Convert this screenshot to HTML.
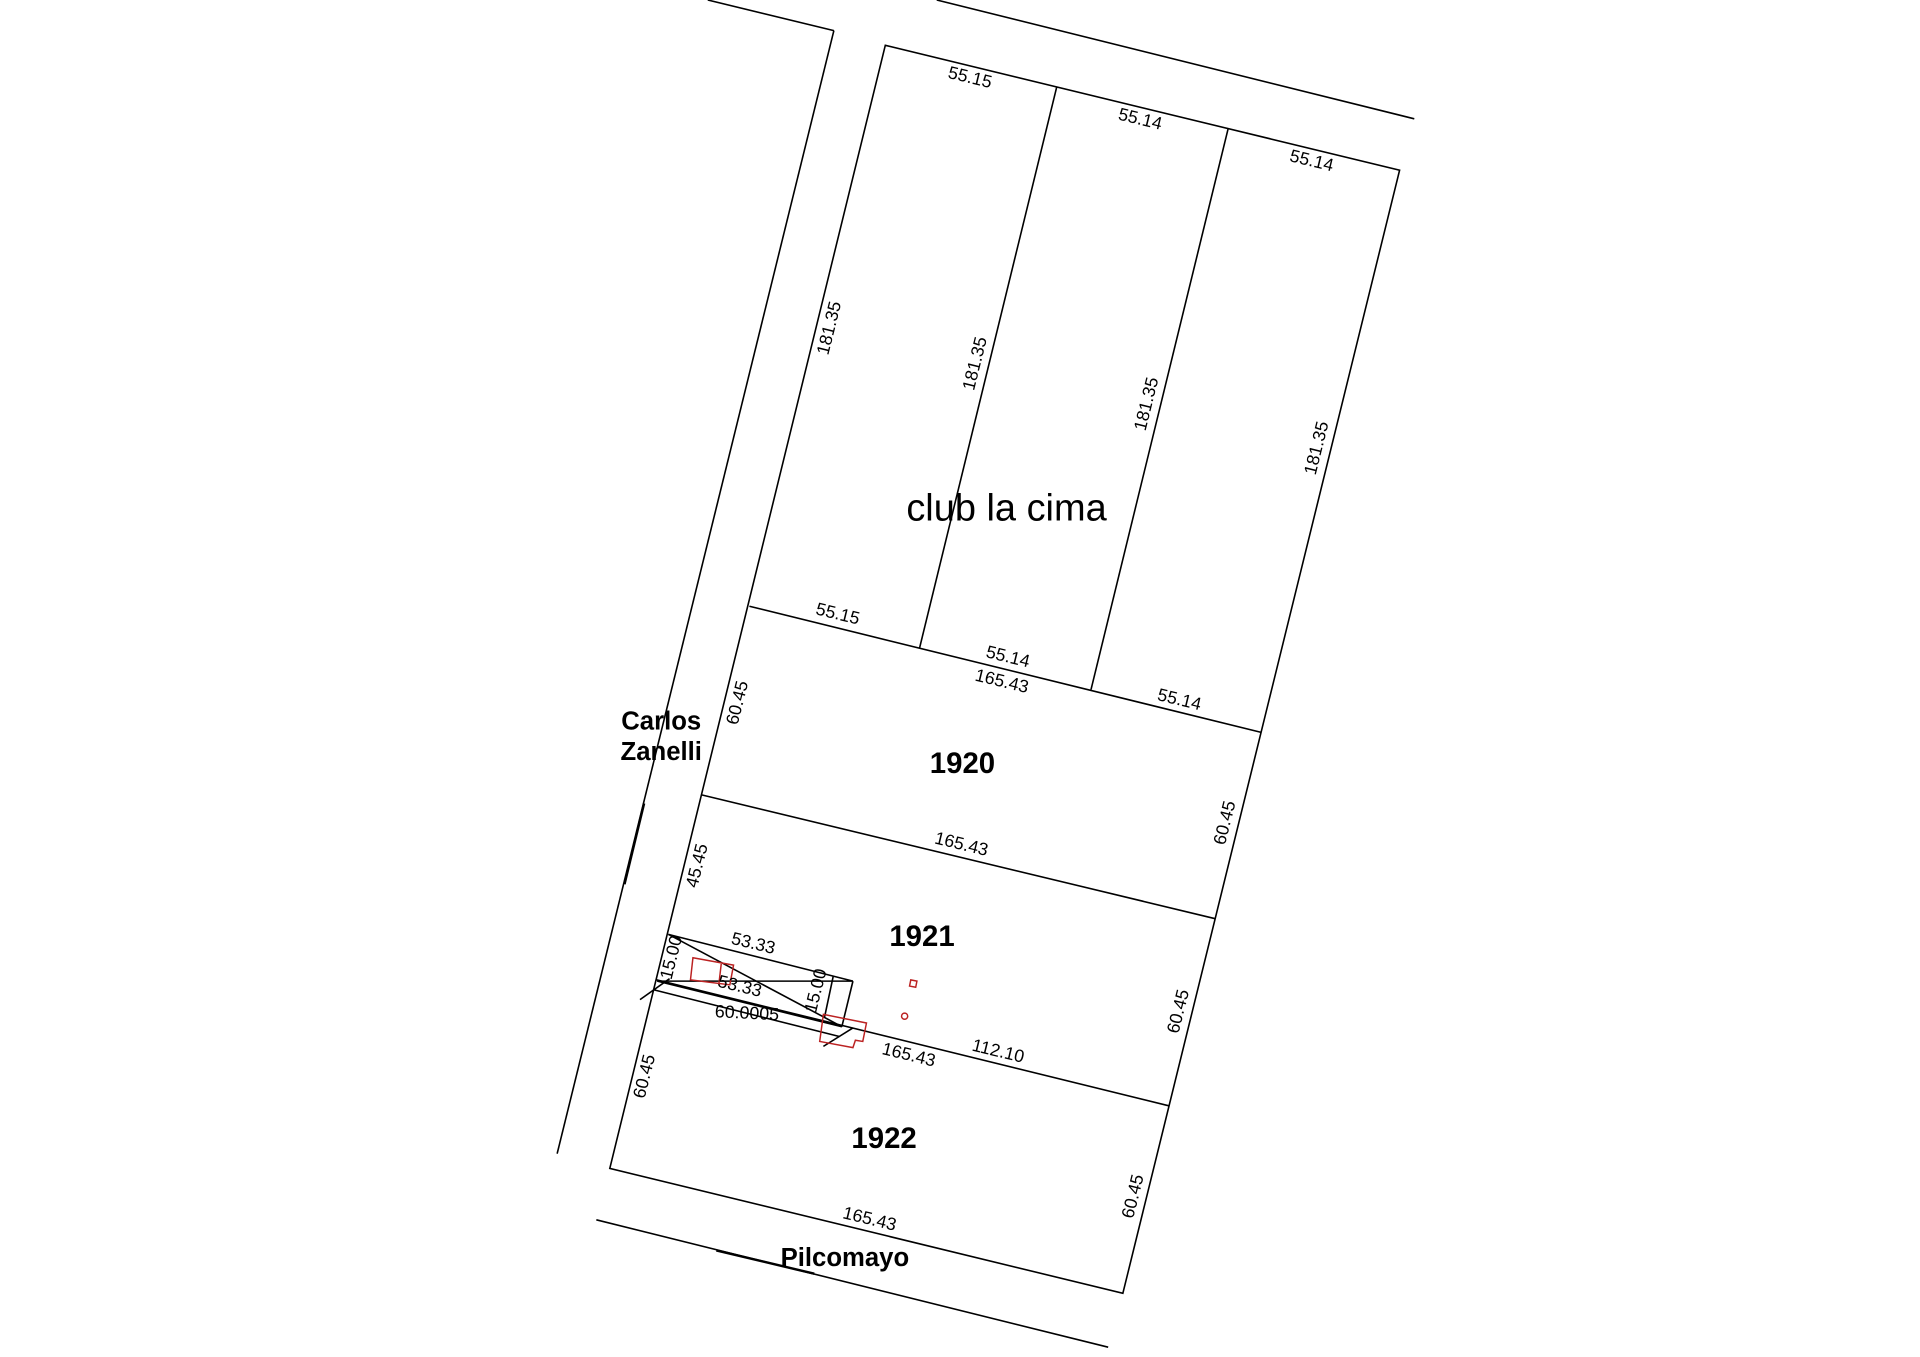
<!DOCTYPE html>
<html><head><style>html,body{margin:0;padding:0;background:#fff}svg{display:block}</style></head>
<body>
<svg width="1920" height="1357" viewBox="0 0 1568 1108" preserveAspectRatio="none" xmlns="http://www.w3.org/2000/svg" font-family="Liberation Sans, sans-serif">
<g stroke="#000" stroke-width="1.3" fill="none">
<line x1="578" y1="0" x2="681" y2="25"/>
<line x1="681" y1="25" x2="455" y2="942"/>
<line x1="765" y1="0" x2="1155" y2="97"/>
<line x1="487" y1="996" x2="905" y2="1100"/>
<line x1="526" y1="656" x2="510" y2="722" stroke-width="2"/>
<line x1="585" y1="1021" x2="665" y2="1040" stroke-width="2"/>
<polygon points="723,37 1143,139 917,1056 498,954"/>
<line x1="863" y1="71" x2="751" y2="529"/>
<line x1="1003" y1="105" x2="891" y2="563"/>
<line x1="612" y1="495" x2="1030" y2="598"/>
<line x1="573" y1="649" x2="992" y2="750"/>
<line x1="536" y1="800" x2="955" y2="903"/>
</g>
<g transform="scale(1.00514)">
<g stroke="#000" stroke-width="1.3" fill="none">
<line x1="543" y1="759" x2="693" y2="797"/>
<line x1="693" y1="797" x2="684" y2="834"/>
<line x1="534" y1="797" x2="693" y2="797"/>
<line x1="543" y1="759" x2="684" y2="834"/>
<line x1="677" y1="793" x2="670" y2="826"/>
<line x1="534" y1="797" x2="684" y2="834"/>
<line x1="531" y1="804" x2="682" y2="842"/>
<line x1="669" y1="850" x2="693" y2="835"/>
<line x1="520" y1="812" x2="544" y2="795"/>
</g>
<g stroke="#b22" stroke-width="1.2" fill="none">
<polygon points="563,778 596,784 593,800 561,796"/>
<line x1="586" y1="783" x2="584" y2="800"/>
<polygon points="669,824 704,831 701,846 695,845 693,851 666,846"/>
<polygon points="740,796 745,797 744,802 739,801"/>
<circle cx="735" cy="825.5" r="2.5"/>
</g>
</g>
<g font-size="14.5" fill="#000" text-anchor="middle" dominant-baseline="middle">
<text transform="translate(792,64) rotate(13.6)">55.15</text>
<text transform="translate(931,98) rotate(13.6)">55.14</text>
<text transform="translate(1071,132) rotate(13.6)">55.14</text>
<text transform="translate(678,268) rotate(-76)">181.35</text>
<text transform="translate(797,297) rotate(-76)">181.35</text>
<text transform="translate(937,330) rotate(-76)">181.35</text>
<text transform="translate(1076,366) rotate(-76)">181.35</text>
<text x="822" y="417" font-size="31">club la cima</text>
<text transform="translate(684,502) rotate(13.6)">55.15</text>
<text transform="translate(823,537) rotate(13.6)">55.14</text>
<text transform="translate(818,557) rotate(13.6)">165.43</text>
<text transform="translate(963,572) rotate(13.6)">55.14</text>
<text transform="translate(603,574) rotate(-76)">60.45</text>
<text x="540" y="590" font-size="21" font-weight="bold">Carlos</text>
<text x="540" y="615" font-size="21" font-weight="bold">Zanelli</text>
<text x="786" y="625" font-size="24" font-weight="bold">1920</text>
<text transform="translate(785,690) rotate(13.6)">165.43</text>
<text transform="translate(1001,672) rotate(-76)">60.45</text>
<text transform="translate(570,707) rotate(-76)">45.45</text>
<text x="753" y="766" font-size="24" font-weight="bold">1921</text>
<text transform="translate(615,771) rotate(13.6)">53.33</text>
<text transform="translate(549,782) rotate(-76)">15.00</text>
<text transform="translate(604,806) rotate(13.6)">53.33</text>
<text transform="translate(667,809) rotate(-76)">15.00</text>
<text transform="translate(610,828) rotate(3)">60.0005</text>
<text transform="translate(963,826) rotate(-76)">60.45</text>
<text transform="translate(815,859) rotate(13.6)">112.10</text>
<text transform="translate(742,862) rotate(13.6)">165.43</text>
<text transform="translate(527,879) rotate(-76)">60.45</text>
<text x="722" y="931" font-size="24" font-weight="bold">1922</text>
<text transform="translate(926,977) rotate(-76)">60.45</text>
<text transform="translate(710,996) rotate(13.6)">165.43</text>
<text x="690" y="1028" font-size="21" font-weight="bold">Pilcomayo</text>
</g>
</svg>
</body></html>
